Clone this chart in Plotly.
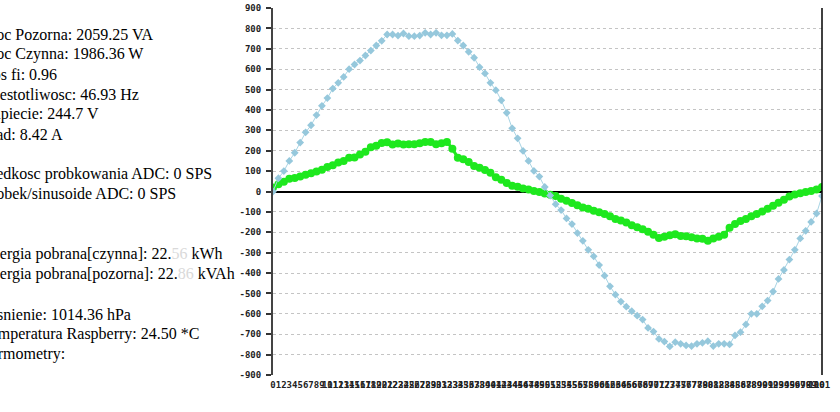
import plotly.graph_objects as go

# ---- data ----
sample_idx = list(range(102))
tick_labels = [str(i) for i in sample_idx]

voltage = [0, 65, 100, 150, 190, 240, 290, 325, 375, 420, 458, 505, 533, 562, 600, 623, 642, 667, 691, 716,
           739, 770, 770, 765, 775, 762, 762, 765, 778,
           770, 778, 766, 766, 773, 740, 716, 685, 656, 610, 579, 533, 497, 447, 386, 310, 261, 199, 150, 101, 73,
           22, -20, -62, -91, -132, -160, -204, -242, -286, -318, -361, -413, -465, -506, -540, -565, -587, -609,
           -628, -669, -687, -723, -736, -760, -739, -747, -755, -758, -747, -742, -734, -758, -747, -747, -750,
           -706, -690, -652, -600, -600, -563, -535, -491, -429, -385, -334, -286, -230, -193, -149, -108, -22]

current = [20, 36, 48, 62, 66, 74, 82, 90, 98, 107, 120, 129, 142, 150, 166, 167, 182, 195, 217, 225,
           238, 242, 231, 235, 231, 232, 232, 237, 243,
           243, 232, 237, 243, 210, 166, 158, 145, 125, 117, 106, 92, 70, 58, 42, 28, 23, 15, 10, 3, -2,
           -10, -16, -22, -35, -45, -57, -67, -78, -85, -95, -102, -110, -122, -135, -142, -152, -165, -175,
           -185, -198, -212, -228, -222, -215, -210, -218, -220, -224, -230, -232, -242, -230, -222, -212,
           -178, -160, -145, -135, -122, -110, -98, -85, -70, -55, -40, -25, -15, -8, -3, 3, 10, 22]

y_ticks = list(range(-900, 901, 100))

info_lines = [
    "Moc Pozorna: 2059.25 VA",
    "Moc Czynna: 1986.36 W",
    "Cos fi: 0.96",
    "Czestotliwosc: 46.93 Hz",
    "Napiecie: 244.7 V",
    "Prad: 8.42 A",
    "",
    "Predkosc probkowania ADC: 0 SPS",
    "Probek/sinusoide ADC: 0 SPS",
    "",
    "",
    "Energia pobrana[czynna]: 22.<span style='color:#d9d9d9'>56</span> kWh",
    "Energia pobrana[pozorna]: 22.<span style='color:#d9d9d9'>86</span> kVAh",
    "",
    "Cisnienie: 1014.36 hPa",
    "Temperatura Raspberry: 24.50 *C",
    "Termometry:",
]

# ---- layout constants ----
W, H = 840, 412
ML, MR, MT, MB = 273, 18, 8, 37
PW, PH = W - ML - MR, H - MT - MB

fig = go.Figure()
fig.add_trace(go.Scatter(
    x=sample_idx, y=current, mode="lines+markers",
    line=dict(color="#1ee81e", width=3),
    marker=dict(color="#1ee81e", size=8, symbol="circle"),
    showlegend=False, hoverinfo="skip"))
fig.add_trace(go.Scatter(
    x=sample_idx, y=voltage, mode="lines+markers",
    line=dict(color="#a8d4e4", width=1),
    marker=dict(color="#96c8dc", size=6, symbol="diamond"),
    showlegend=False, hoverinfo="skip"))

tick_font = dict(family="DejaVu Sans Mono", size=9, color="#222", weight="bold")

fig.update_layout(
    template="none",
    width=W, height=H,
    margin=dict(l=ML, r=MR, t=MT, b=MB, pad=0, autoexpand=False),
    paper_bgcolor="white", plot_bgcolor="white",
    xaxis=dict(range=[0, 101], tickmode="array", tickvals=sample_idx, ticktext=tick_labels,
               tickangle=0, showgrid=False, zeroline=False, showline=False,
               ticks="outside", ticklen=1, tickcolor="rgba(0,0,0,0)",
               tickfont=tick_font, fixedrange=True, automargin=False),
    yaxis=dict(range=[-900, 900], tickmode="array", tickvals=y_ticks,
               ticktext=[str(v) for v in y_ticks],
               showgrid=True, gridcolor="#c4c4c4", gridwidth=1, griddash="3px,3px",
               zeroline=True, zerolinecolor="#000", zerolinewidth=1.5,
               showline=True, linecolor="#444", linewidth=2,
               ticks="outside", ticklen=5, tickwidth=2, tickcolor="#333",
               ticklabelstandoff=3,
               tickfont=tick_font, fixedrange=True, automargin=False),
)

# right border of the plot area
fig.add_shape(type="line", xref="paper", yref="paper", x0=1, x1=1, y0=0, y1=1,
              line=dict(color="#000", width=1.5))

text_left_px = -20
first_line_px = 34
line_step_px = 20
for k, line in enumerate(info_lines):
    if not line:
        continue
    ypx = first_line_px + k * line_step_px
    fig.add_annotation(
        xref="paper", yref="paper",
        x=(text_left_px - ML) / PW, y=(H - MB - ypx) / PH,
        xanchor="left", yanchor="middle", showarrow=False,
        text=line, align="left",
        font=dict(family="Liberation Serif", size=16, color="#000"))

fig.write_html("out.html")
